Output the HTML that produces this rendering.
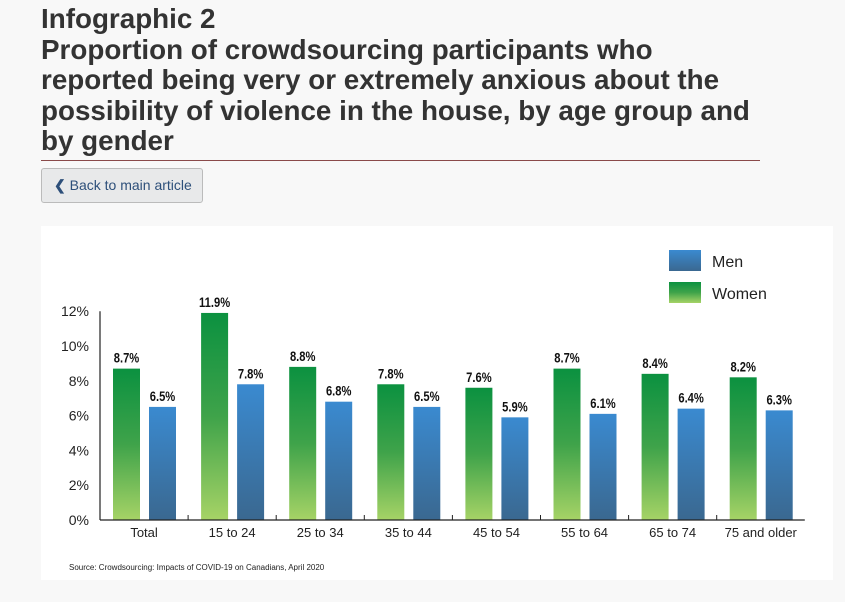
<!DOCTYPE html>
<html><head><meta charset="utf-8"><style>
body{margin:0;background:#f8f8f8;width:845px;height:602px;overflow:hidden;font-family:"Liberation Sans",sans-serif}
h1{position:absolute;left:41px;top:4px;margin:0;font-size:27.8px;line-height:30.5px;color:#333;font-weight:bold;white-space:nowrap}
#rule{position:absolute;left:41px;top:160px;width:719px;height:1px;background:#8a4a4a}
#back{position:absolute;left:41px;top:168px;width:162px;height:35px;border:1px solid #bbb;border-radius:3px;background:#e8e9ea;color:#2d4f7a;font-size:14px;line-height:33px;box-sizing:border-box;padding-left:12px}
#chart{position:absolute;left:41px;top:226px}
</style></head><body>
<h1>Infographic 2<br>Proportion of crowdsourcing participants who<br>reported being very or extremely anxious about the<br>possibility of violence in the house, by age group and<br>by gender</h1>
<div id="rule"></div>
<div id="back"><span style="font-weight:bold">&#10094;</span> Back to main article</div>
<svg id="chart" width="792" height="354">
<defs>
<linearGradient id="gw" x1="0" y1="0" x2="0" y2="1"><stop offset="0" stop-color="#0b9140"/><stop offset="0.5" stop-color="#3fa34a"/><stop offset="1" stop-color="#a6d366"/></linearGradient>
<linearGradient id="gm" x1="0" y1="0" x2="0" y2="1"><stop offset="0" stop-color="#3a8ad0"/><stop offset="1" stop-color="#3a6890"/></linearGradient>
</defs>
<rect width="792" height="354" fill="#fff"/>
<g id="g"></g>
</svg>
<script>
const categories=["Total","15 to 24","25 to 34","35 to 44","45 to 54","55 to 64","65 to 74","75 and older"];
const women=[8.7,11.9,8.8,7.8,7.6,8.7,8.4,8.2];
const men=[6.5,7.8,6.8,6.5,5.9,6.1,6.4,6.3];
const yTicks=[0,2,4,6,8,10,12];
const NS="http://www.w3.org/2000/svg";
const g=document.getElementById('g');
const x0=59,gw=88.1,yb=294,ppu=17.4;
const y=v=>yb-v*ppu;
function el(t,a,txt){const e=document.createElementNS(NS,t);for(const k in a)e.setAttribute(k,a[k]);if(txt!=null)e.textContent=txt;g.appendChild(e);return e;}
function vlabel(cx,v){const e=el('text',{x:0,y:0,'text-anchor':'middle','font-size':14,'font-weight':'bold',fill:'#111',transform:`translate(${cx},${y(v)-6}) scale(0.8,1)`},v.toFixed(1)+'%');return e;}
yTicks.forEach(t=>{const e=el('text',{x:48,y:y(t)+5,'text-anchor':'end','font-size':14,fill:'#222'},t+'%');

});
categories.forEach((c,i)=>{
const gx=x0+i*gw;
const w=el('rect',{x:gx+13,y:y(women[i]),width:27,height:women[i]*ppu,fill:'url(#gw)'});


const m=el('rect',{x:gx+49,y:y(men[i]),width:27,height:men[i]*ppu,fill:'url(#gm)'});


const lw=vlabel(gx+26.5,women[i]);


const lm=vlabel(gx+62.5,men[i]);


const cl=el('text',{x:gx+gw/2,y:yb+17,'text-anchor':'middle','font-size':13,fill:'#222'},c);


if(i>0){const tk=el('line',{x1:gx,x2:gx,y1:yb,y2:yb-5,stroke:'#222'});

}
});
const ya=el('line',{x1:x0,x2:x0,y1:y(12),y2:yb,stroke:'#222','stroke-width':1.2});


const xa=el('line',{x1:x0,x2:x0+8*gw,y1:yb,y2:yb,stroke:'#222','stroke-width':1.2});


const l1=el('rect',{x:628,y:24,width:32,height:21,fill:'url(#gm)'});


const l2=el('rect',{x:628,y:56,width:32,height:21,fill:'url(#gw)'});


const t1=el('text',{x:671,y:41,'font-size':16,fill:'#222'},'Men');


const t2=el('text',{x:671,y:73,'font-size':16,fill:'#222'},'Women');


const src=el('text',{x:28,y:344,'font-size':8,fill:'#222'},'Source: Crowdsourcing: Impacts of COVID-19 on Canadians, April 2020');


</script>
</body></html>
